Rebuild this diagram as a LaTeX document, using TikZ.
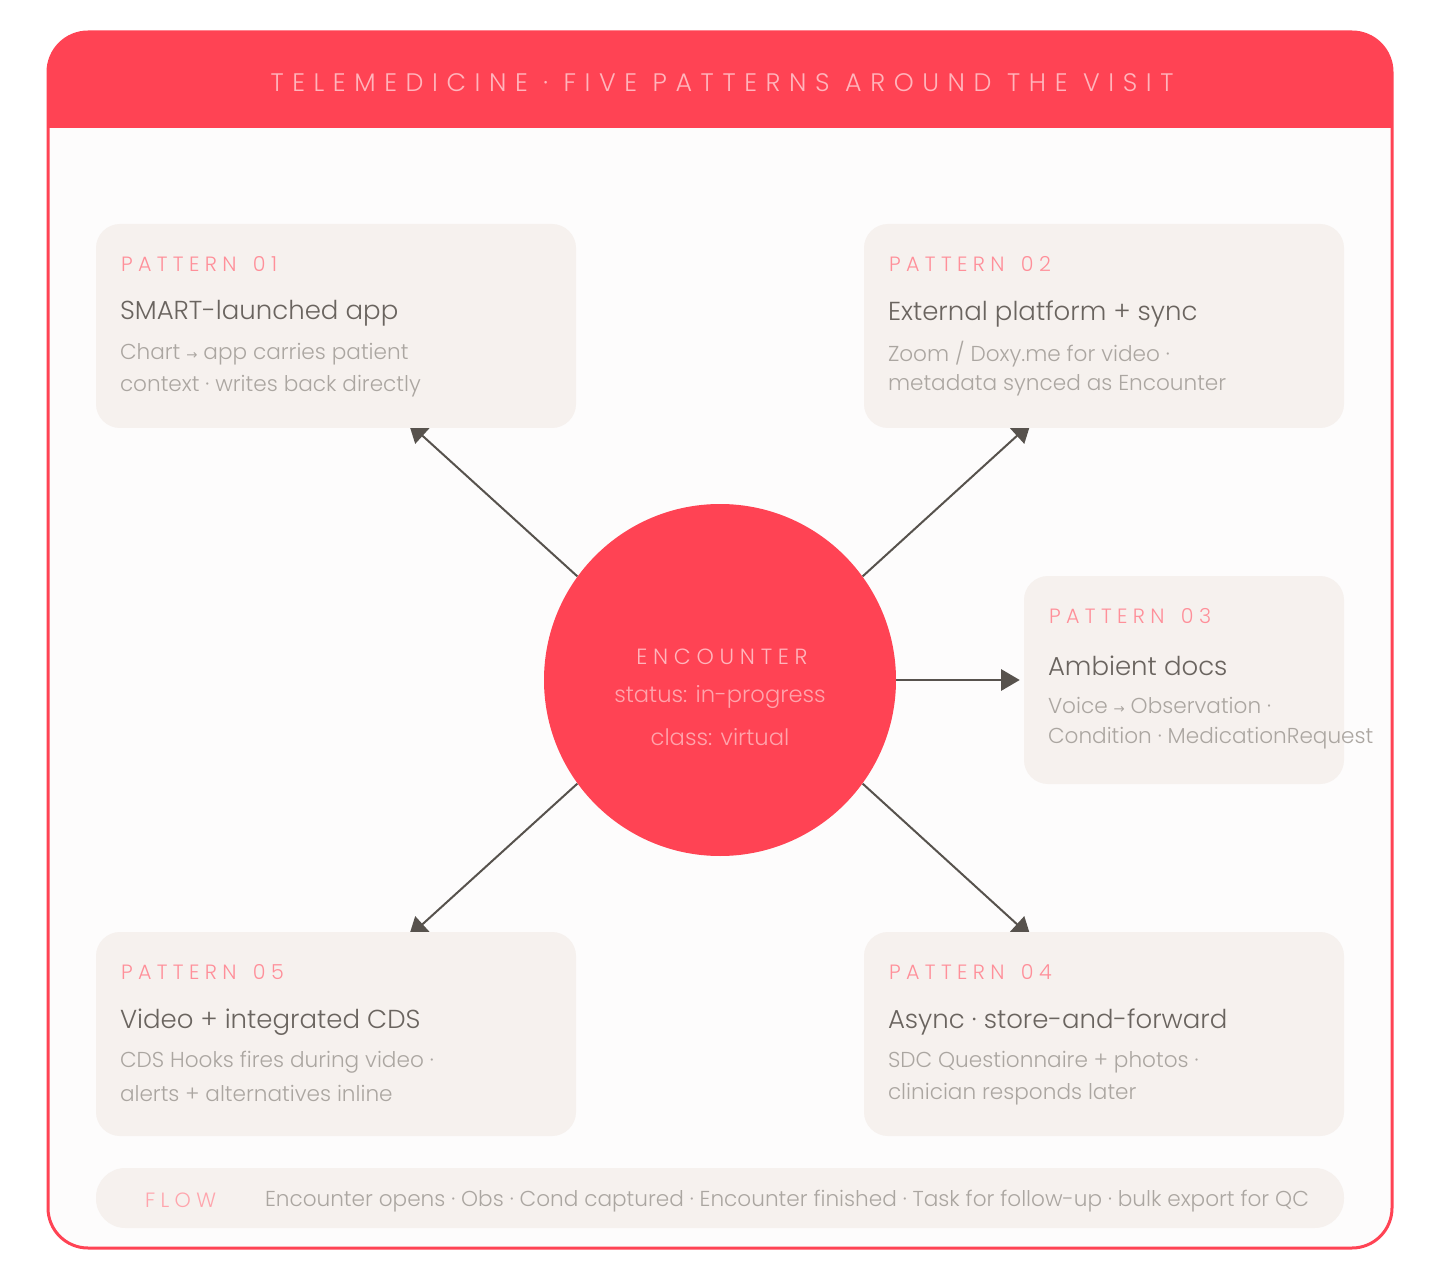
\documentclass[tikz,border=0pt]{standalone}
\usepackage{fontspec}
\setmainfont{Poppins}[UprightFont=* Light]
\newfontfamily\spacedfont{Poppins}[UprightFont=* Light, LetterSpace=26]
\newfontfamily\widefont{Poppins}[UprightFont=* Light, LetterSpace=34]
\newfontfamily\arrfont{DejaVu Sans}
\usetikzlibrary{
  arrows.meta,
  positioning,
  fit,
  calc,
  backgrounds
}
\definecolor{tmRed}{HTML}{FF4354}
\definecolor{tmPaper}{HTML}{FDFCFC}
\definecolor{tmCard}{HTML}{F6F1EE}
\definecolor{tmPink}{HTML}{FF8F99}
\definecolor{tmInk}{HTML}{6A645F}
\definecolor{tmMute}{HTML}{ABA6A1}
\definecolor{tmArrow}{HTML}{57524D}
\definecolor{tmHead}{HTML}{FFB5BC}
\definecolor{tmEnc}{HTML}{FFA4AC}
\newcommand{\arr}{{\arrfont\fontsize{10}{10}\selectfont →}}
\newcommand{\pnum}[1]{PATTERN\hspace{4pt} #1}
\pgfdeclarelayer{frame}
\pgfsetlayers{frame,background,main}
\tikzset{
  card/.style={fill=tmCard, rounded corners=18pt, inner sep=0pt},
  flowbar/.style={fill=tmCard, rounded corners=22pt, inner sep=0pt},
  encnode/.style={circle, fill=tmRed, minimum size=264pt, inner sep=0pt},
  txt/.style={inner sep=0pt, anchor=west},
  plabel/.style={txt, font={\spacedfont\fontsize{15.5}{15.5}\selectfont}, text=tmPink},
  ptitle/.style={txt, font={\fontsize{19.5}{20}\selectfont}, text=tmInk},
  pbody/.style={txt, font={\fontsize{16.2}{17}\selectfont}, text=tmMute},
  headtxt/.style={inner sep=0pt, font={\widefont\fontsize{19}{19}\selectfont}, text=tmHead},
  enctag/.style={inner sep=0pt, font={\spacedfont\fontsize{16.5}{16.5}\selectfont}, text=tmHead},
  encline/.style={inner sep=0pt, font={\fontsize{17}{18}\selectfont}, text=tmEnc},
  link/.style={-{Triangle[length=14pt, width=16pt]}, line width=1.5pt, tmArrow}
}
\begin{document}
\begin{tikzpicture}[x=0.75pt, y=-0.75pt, node distance=6mm]
  \useasboundingbox (0,0) rectangle (1440,1280);
  % outer frame and header band
  \begin{pgfonlayer}{frame}
    \fill[white] (0,0) rectangle (1440,1280);
    \begin{scope}
      \clip[rounded corners=30pt] (48,32) rectangle (1392,1248);
      \fill[tmPaper] (48,32) rectangle (1392,1248);
      \fill[tmRed] (48,32) rectangle (1392,128);
    \end{scope}
    \draw[tmRed, line width=2.25pt, rounded corners=30pt] (48,32) rectangle (1392,1248);
  \end{pgfonlayer}
  \node[headtxt] (head) at (722,83) {TELEMEDICINE · FIVE PATTERNS AROUND THE VISIT};

  % the visit
  \node[encnode] (enc) at (720,680) {};
  \node[enctag] (enctag) at (722,657) {ENCOUNTER};
  \node[encline] (encst) at (720,697) {status: in-progress};
  \node[encline] (enccl) at (720,737) {class: virtual};

  % pattern cards
  \node[card, fit={(96,224) (576,428)}] (p1) {};
  \node[plabel] (p1l) at ($(p1.north west)+(25,40)$) {\pnum{01}};
  \node[ptitle] (p1t) at ($(p1.north west)+(24,90)$) {SMART-launched app};
  \node[pbody] (p1a) at ($(p1.north west)+(24,130)$) {Chart \arr{} app carries patient};
  \node[pbody] (p1b) at ($(p1.north west)+(24,162)$) {context · writes back directly};

  \node[card, fit={(864,224) (1344,428)}] (p2) {};
  \node[plabel] (p2l) at ($(p2.north west)+(25,40)$) {\pnum{02}};
  \node[ptitle] (p2t) at ($(p2.north west)+(24,90)$) {External platform + sync};
  \node[pbody] (p2a) at ($(p2.north west)+(24,130)$) {Zoom / Doxy.me for video ·};
  \node[pbody] (p2b) at ($(p2.north west)+(24,162)$) {metadata synced as Encounter};

  \node[card, fit={(1024,576) (1344,784)}] (p3) {};
  \node[plabel] (p3l) at ($(p3.north west)+(25,40)$) {\pnum{03}};
  \node[ptitle] (p3t) at ($(p3.north west)+(24,90)$) {Ambient docs};
  \node[pbody] (p3a) at ($(p3.north west)+(24,130)$) {Voice \arr{} Observation ·};
  \node[pbody] (p3b) at ($(p3.north west)+(24,162)$) {Condition · MedicationRequest};

  \node[card, fit={(864,932) (1344,1136)}] (p4) {};
  \node[plabel] (p4l) at ($(p4.north west)+(25,40)$) {\pnum{04}};
  \node[ptitle] (p4t) at ($(p4.north west)+(24,90)$) {Async · store-and-forward};
  \node[pbody] (p4a) at ($(p4.north west)+(24,130)$) {SDC Questionnaire + photos ·};
  \node[pbody] (p4b) at ($(p4.north west)+(24,162)$) {clinician responds later};

  \node[card, fit={(96,932) (576,1136)}] (p5) {};
  \node[plabel] (p5l) at ($(p5.north west)+(25,40)$) {\pnum{05}};
  \node[ptitle] (p5t) at ($(p5.north west)+(24,90)$) {Video + integrated CDS};
  \node[pbody] (p5a) at ($(p5.north west)+(24,130)$) {CDS Hooks fires during video ·};
  \node[pbody] (p5b) at ($(p5.north west)+(24,162)$) {alerts + alternatives inline};

  % flow strip
  \node[flowbar, fit={(96,1168) (1344,1228)}] (flow) {};
  \node[plabel, text=tmPink!80] (flowl) at ($(flow.west)+(49,2)$) {FLOW};
  \node[pbody] (flowt) at ($(flow.west)+(169,3)$) {Encounter opens · Obs · Cond captured · Encounter finished · Task for follow-up · bulk export for QC};

  % connectors, tips tucked under the cards
  \coordinate (t1) at ($(p1.south west)+(313,-5)$);
  \coordinate (t2) at ($(p2.south west)+(167,-5)$);
  \coordinate (t3) at ($(p3.west)+(-4,0)$);
  \coordinate (t4) at ($(p4.north west)+(167,5)$);
  \coordinate (t5) at ($(p5.north west)+(313,5)$);
  \begin{pgfonlayer}{background}
    \foreach \a/\t in {144/t1, 36/t2, 0/t3, 324/t4, 216/t5}{\draw[link] (enc.\a) -- (\t);}
  \end{pgfonlayer}
\end{tikzpicture}
\end{document}
